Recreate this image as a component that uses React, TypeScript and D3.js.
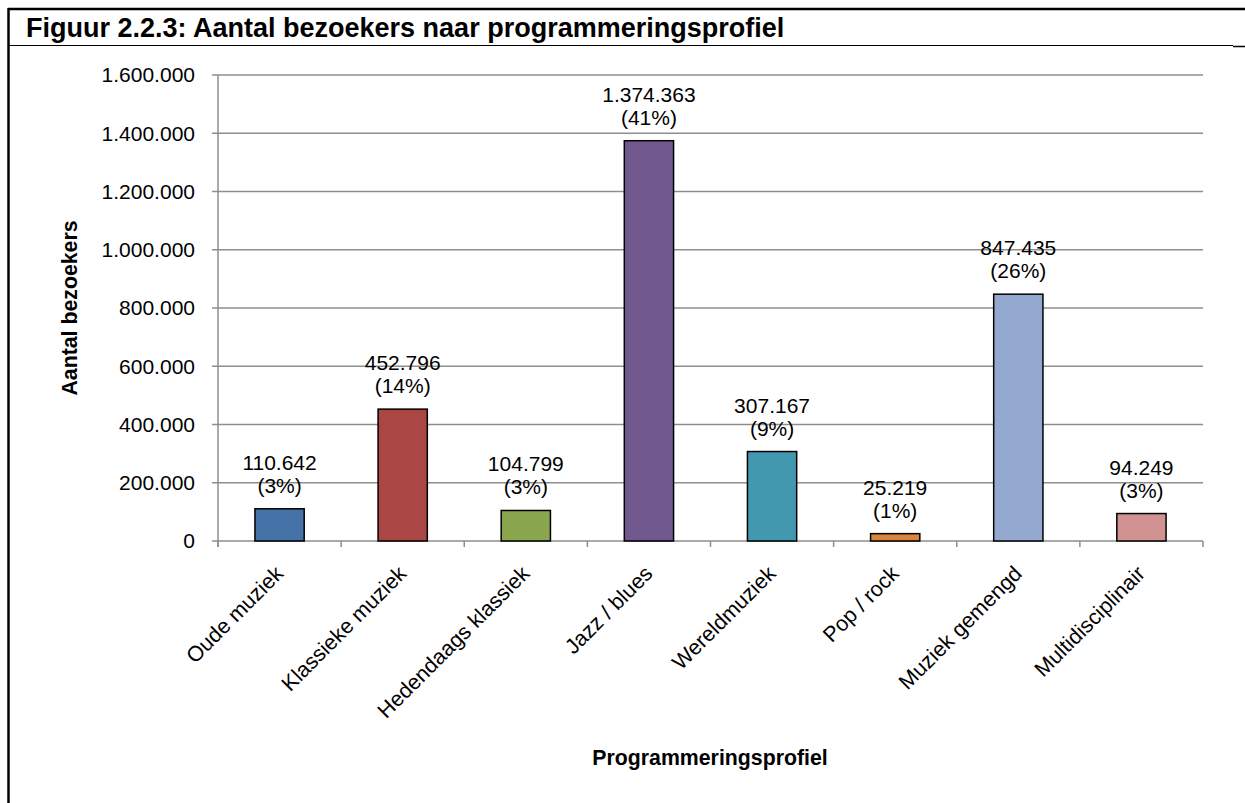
import React, { useEffect, useRef } from "react";
import * as d3 from "d3";

const categories = [
  "Oude muziek",
  "Klassieke muziek",
  "Hedendaags klassiek",
  "Jazz / blues",
  "Wereldmuziek",
  "Pop / rock",
  "Muziek gemengd",
  "Multidisciplinair",
];
const visitors = [110642, 452796, 104799, 1374363, 307167, 25219, 847435, 94249];
const shares = ["3%", "14%", "3%", "41%", "9%", "1%", "26%", "3%"];
const barColors = ["#4572A7", "#AA4643", "#89A54E", "#71588F", "#4198AF", "#DB843D", "#93A9CF", "#D19392"];
const yTicks = [0, 200000, 400000, 600000, 800000, 1000000, 1200000, 1400000, 1600000];

const W = 1245, H = 803;
const FONT = "'Liberation Sans', Arial, Helvetica, sans-serif";

const fmt = (v: number) => d3.format(",")(v).replace(/,/g, ".");

export default function App() {
  const ref = useRef<SVGSVGElement | null>(null);
  useEffect(() => {
    const node = ref.current;
    if (!node) return;
    const svg = d3.select(node);
    svg.selectAll("*").remove();
    const m = { l: 218, r: 1203, t: 75, b: 541 };

    // frame
    svg.append("line").attr("x1", 8).attr("x2", W).attr("y1", 9).attr("y2", 9).attr("stroke", "#000").attr("stroke-width", 2.5);
    svg.append("line").attr("x1", 8.5).attr("x2", 8.5).attr("y1", 8).attr("y2", H).attr("stroke", "#000").attr("stroke-width", 2.5);
    svg.append("line").attr("x1", 8).attr("x2", 1233).attr("y1", 45.5).attr("y2", 45.5).attr("stroke", "#000").attr("stroke-width", 1);
    svg.append("line").attr("x1", 1233).attr("x2", W).attr("y1", 46.5).attr("y2", 46.5).attr("stroke", "#000").attr("stroke-width", 1.5);
    svg.append("text").attr("x", 26).attr("y", 37).attr("font-family", FONT).attr("font-weight", "bold")
      .attr("font-size", 27).attr("fill", "#000").text("Figuur 2.2.3: Aantal bezoekers naar programmeringsprofiel");

    const x = d3.scaleBand().domain(categories).range([m.l, m.r]).paddingInner(0.6).paddingOuter(0.3);
    const y = d3.scaleLinear().domain([0, 1600000]).range([m.b, m.t]);

    const g = svg.append("g");
    // gridlines
    g.selectAll("line.grid").data(yTicks).enter().append("line")
      .attr("x1", m.l - 6).attr("x2", m.r).attr("y1", (d) => y(d)).attr("y2", (d) => y(d))
      .attr("stroke", "#8e8e8e").attr("stroke-width", 1.5);
    g.append("line").attr("x1", m.l).attr("x2", m.l).attr("y1", m.t).attr("y2", m.b + 6)
      .attr("stroke", "#8e8e8e").attr("stroke-width", 1.5);
    // category boundary ticks
    const step = (m.r - m.l) / categories.length;
    g.selectAll("line.xt").data(d3.range(categories.length + 1)).enter().append("line")
      .attr("x1", (i) => m.l + i * step).attr("x2", (i) => m.l + i * step)
      .attr("y1", m.b).attr("y2", m.b + 6).attr("stroke", "#8e8e8e").attr("stroke-width", 1.5);

    g.selectAll("text.yt").data(yTicks).enter().append("text")
      .attr("x", 195).attr("y", (d) => y(d)).attr("dy", "0.35em").attr("text-anchor", "end")
      .attr("font-family", FONT).attr("font-size", 21).attr("fill", "#000").text((d) => fmt(d));

    g.selectAll("rect").data(visitors).enter().append("rect")
      .attr("x", (_, i) => x(categories[i])!)
      .attr("y", (d) => y(d))
      .attr("width", x.bandwidth())
      .attr("height", (d) => m.b - y(d))
      .attr("fill", (_, i) => barColors[i])
      .attr("stroke", "#000").attr("stroke-width", 1.5);

    const cx = (i: number) => x(categories[i])! + x.bandwidth() / 2;
    const lbl = g.selectAll("g.lbl").data(visitors).enter().append("g");
    lbl.append("text").attr("x", (_, i) => cx(i)).attr("y", (d) => y(d) - 39)
      .attr("text-anchor", "middle").attr("font-family", FONT).attr("font-size", 21).attr("fill", "#000")
      .text((d) => fmt(d));
    lbl.append("text").attr("x", (_, i) => cx(i)).attr("y", (d) => y(d) - 16)
      .attr("text-anchor", "middle").attr("font-family", FONT).attr("font-size", 21).attr("fill", "#000")
      .text((_, i) => `(${shares[i]})`);

    g.selectAll("text.xl").data(categories).enter().append("text")
      .attr("transform", (_, i) => `translate(${cx(i) + 5},${m.b + 34}) rotate(-45)`)
      .attr("text-anchor", "end")
      .attr("font-family", FONT).attr("font-size", 21.5).attr("fill", "#000").text((d) => d);

    svg.append("text").attr("x", 710).attr("y", 765).attr("text-anchor", "middle")
      .attr("font-family", FONT).attr("font-weight", "bold").attr("font-size", 21.3).attr("fill", "#000")
      .text("Programmeringsprofiel");
    svg.append("text").attr("transform", `translate(77,308) rotate(-90)`).attr("text-anchor", "middle")
      .attr("font-family", FONT).attr("font-weight", "bold").attr("font-size", 21.3).attr("fill", "#000")
      .text("Aantal bezoekers");
  }, []);
  return (
    <svg ref={ref} width={W} height={H} viewBox={`0 0 ${W} ${H}`}
      style={{ position: "absolute", left: 0, top: 0, background: "#fff" }} />
  );
}
